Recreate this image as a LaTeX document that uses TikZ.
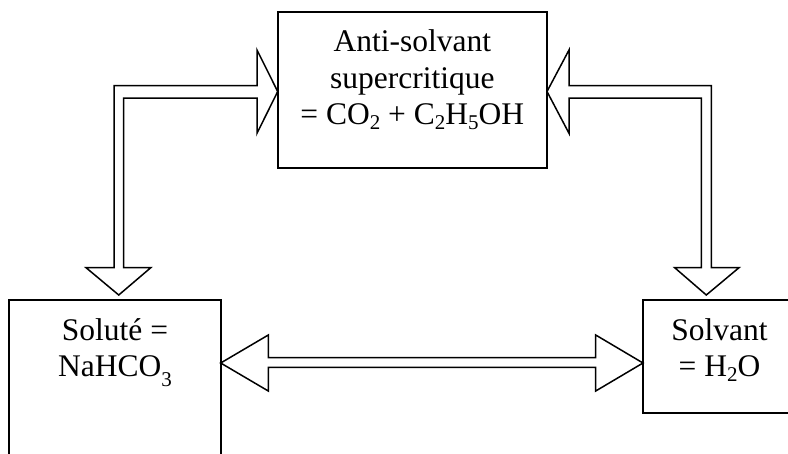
\documentclass[tikz,border=0pt]{standalone}
\usepackage{fontspec}
\setmainfont{Liberation Serif}
\usetikzlibrary{calc}
\newcommand{\mysub}[1]{\raisebox{-0.17em}{\fontsize{21}{21}\selectfont #1}}
\newcommand{\mysublow}[1]{\raisebox{-0.32em}{\fontsize{21}{21}\selectfont #1}}
\tikzset{
  box/.style={draw, line width=1.9pt, rectangle, outer sep=0pt, inner sep=0pt},
  lbl/.style={inner sep=0pt, anchor=base, font=\fontsize{31.5}{36.5}\selectfont},
  blockarrow/.style={draw, line width=1.5pt, line join=miter, fill=white}
}
\begin{document}
\begin{tikzpicture}[x=1pt,y=-1pt]
\useasboundingbox (0,0) rectangle (788,453);
% boxes
\node[box, minimum width=269.3pt, minimum height=156pt, anchor=north west] (anti) at (277.7,11.7) {};
\node[box, minimum width=211.7pt, minimum height=180pt, anchor=north west] (solute) at (9,300) {};
\node[box, minimum width=160pt, minimum height=113.3pt, anchor=north west] (solvant) at (643,300) {};
% texts
\node[lbl] (a1) at (412.3,51.7) {Anti-solvant};
\node[lbl] (a2) at (412.3,88) {supercritique};
\node[lbl] (a3) at (412.3,124.5) {= CO\mysub{2} + C\mysub{2}H\mysub{5}OH};
\node[lbl] (s1) at (115,340) {Soluté =};
\node[lbl] (s2) at (115,376) {NaHCO\mysublow{3}};
\node[lbl] (v1) at (719.5,340) {Solvant};
\node[lbl] (v2) at (719.5,376) {= H\mysub{2}O};
% tips
\coordinate (tA) at ($(anti.north west)!0.5!(anti.south west)+(0,1.8)$);
\coordinate (tB) at ($(anti.north east)!0.5!(anti.south east)+(0,1.8)$);
\coordinate (tS) at ($(solute.north)+(3.9,-5)$);
\coordinate (tV) at ($(solvant.north west)+(63.3,-5)$);
% left L-shaped arrow
\draw[blockarrow] (tA) -- ++(-20.7,-41.5) -- ++(0,35.5) -- ++(-143,0)
  -- ($(tS)+(-4.7,-27.3)$) -- ++(-28,0) -- (tS) -- ++(32,-27.3) -- ++(-27.2,0)
  -- ($(tA)+(-154.2,6.5)$) -- ++(133.5,0) -- ++(0,35.3) -- cycle;
% right L-shaped arrow
\draw[blockarrow] (tB) -- ++(22,-41.5) -- ++(0,35.5) -- ++(142.3,0)
  -- ($(tV)+(5,-27.3)$) -- ++(27.7,0) -- (tV) -- ++(-31.6,-27.3) -- ++(26.6,0)
  -- ($(tB)+(154.3,6.5)$) -- ++(-132.3,0) -- ++(0,35.3) -- cycle;
% horizontal double arrow
\draw[blockarrow] (solute.east |- 0,363) -- ++(47.6,-28) -- ++(0,22.7) -- ++(327.4,0)
  -- ++(0,-22.7) -- (solvant.west |- 0,363) -- ++(-47.3,28) -- ++(0,-23.7)
  -- ++(-327.4,0) -- ++(0,23.7) -- cycle;
\end{tikzpicture}
\end{document}
